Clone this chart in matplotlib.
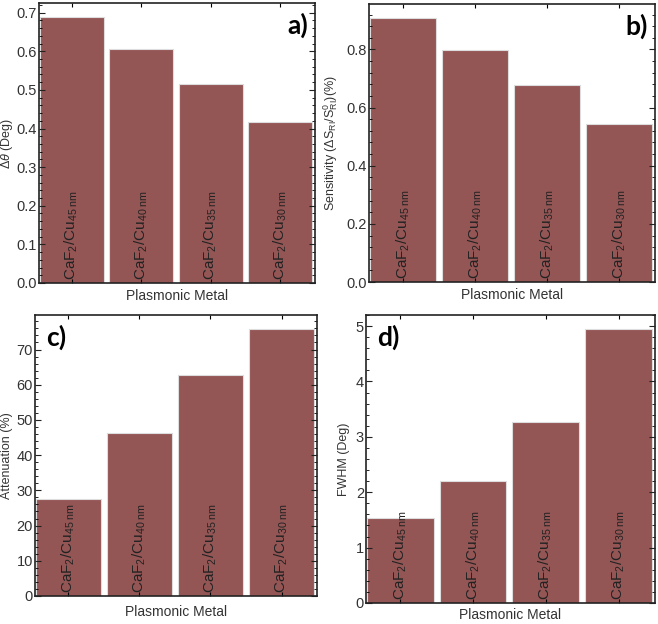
import matplotlib
matplotlib.use("Agg")
import matplotlib.pyplot as plt
from matplotlib.ticker import MultipleLocator

plt.rcParams['font.family'] = ['Liberation Sans', 'DejaVu Sans']
plt.rcParams['mathtext.fontset'] = 'custom'
plt.rcParams['mathtext.rm'] = 'Liberation Sans'
plt.rcParams['mathtext.it'] = 'Liberation Sans:italic'
plt.rcParams['mathtext.bf'] = 'Liberation Sans:bold'

# data
thickness = ["45", "40", "35", "30"]
delta_theta = [0.690, 0.606, 0.514, 0.416]
sensitivity = [0.908, 0.797, 0.676, 0.545]
attenuation = [27.5, 46.3, 62.9, 75.8]
fwhm = [1.53, 2.20, 3.26, 4.95]

bar_color = "#945555"

fig = plt.figure(figsize=(6.58, 6.24), dpi=100)

# rect, valores, ylabel, ytop, major, minor, letra, lado, ylabel x (right edge), xlabel y
paneles = [
    ([0.0593, 0.5465, 0.4195, 0.4487], delta_theta, r"$\Delta\mathit{\theta}$ (Deg)", 0.725, 0.1, 0.02, "a)", "right", -0.087, -0.045),
    ([0.5608, 0.548, 0.4347, 0.4455], sensitivity, r"Sensitivity ($\Delta$S$_{\mathrm{RI}}$/S$^{0}_{\mathrm{RI}}$)(%)", 0.956, 0.2, 0.04, "b)", "right", -0.10, -0.047),
    ([0.0532, 0.0449, 0.4286, 0.4503], attenuation, "Attenuation (%)", 79.8, 10, 2, "c)", "left", -0.078, -0.057),
    ([0.5562, 0.0337, 0.4392, 0.4615], fwhm, "FWHM (Deg)", 5.2, 1, 0.2, "d)", "left", -0.055, -0.042),
]

for rect, valores, ylab, ytop, major, minor, letra, lado, ylx, xly in paneles:
    ax = fig.add_axes(rect)
    x = range(len(valores))
    ax.bar(x, valores, width=0.92, color=bar_color, edgecolor="#dddddd", linewidth=0.8)
    ax.set_xlim(-0.47, 3.5)
    ax.set_ylim(0, ytop)
    ax.yaxis.set_major_locator(MultipleLocator(major))
    ax.yaxis.set_minor_locator(MultipleLocator(minor))
    ax.set_xticks(list(x))
    ax.set_xticklabels([])
    ax.tick_params(axis="both", which="both", direction="in", top=True, right=True)
    ax.tick_params(axis="y", which="major", length=4, pad=1.5, labelsize=10.5, colors="#222222", labelcolor="#333333")
    ax.tick_params(axis="y", which="minor", length=2)
    ax.tick_params(axis="x", which="major", length=3)
    for s in ax.spines.values():
        s.set_linewidth(1.2)
        s.set_color("#222222")
    ax.set_ylabel(ylab, fontsize=9, color="#333333")
    ax.yaxis.set_label_coords(ylx, 0.5)
    ax.set_xlabel("Plasmonic Metal", fontsize=10, color="#333333", va="center")
    ax.xaxis.set_label_coords(0.5, xly)
    for xi, t in zip(x, thickness):
        ax.text(xi, ytop * 0.012, r"CaF$_2$/Cu$_{%s\ \mathrm{nm}}$" % t, rotation=90,
                ha="center", va="bottom", fontsize=11, color="#222222")
    if lado == "right":
        ax.text(0.975, 0.965, letra, transform=ax.transAxes, ha="right", va="top",
                fontsize=19, fontweight="bold", family=["Lato", "DejaVu Sans"])
    else:
        ax.text(0.04, 0.965, letra, transform=ax.transAxes, ha="left", va="top",
                fontsize=19, fontweight="bold", family=["Lato", "DejaVu Sans"])

plt.savefig("out.png", dpi=100)
